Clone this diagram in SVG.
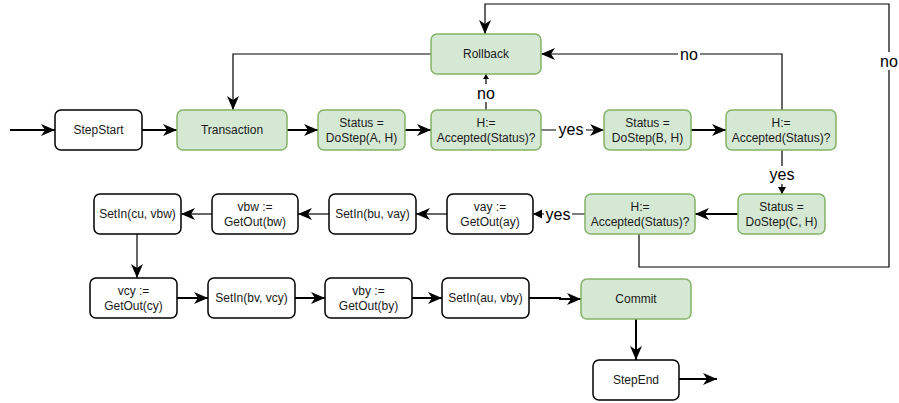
<svg xmlns="http://www.w3.org/2000/svg" width="899" height="403" viewBox="0 0 899 403">
  <style>
    .plain { fill: #ffffff; stroke: #000000; stroke-width: 1.5; }
    .green { fill: #d5e8d4; stroke: #82b366; stroke-width: 1.5; }
    .t { font-family: "Liberation Sans", Arial, sans-serif; font-size: 12px; fill: #1a1a1a; text-anchor: middle; }
    .lbl { font-family: "Liberation Sans", Arial, sans-serif; font-size: 16px; fill: #000000; text-anchor: middle; }
    .bg { fill: #ffffff; }
    .e { fill: none; stroke: #000000; stroke-width: 2; }
    .thin { fill: none; stroke: #000000; stroke-width: 1.2; }
  </style>
  <defs>
    <marker id="big" markerUnits="userSpaceOnUse" markerWidth="14" markerHeight="12" refX="14" refY="6" orient="auto" overflow="visible">
      <path d="M0,0 L14,6 L0,12 L4,6 Z" fill="#000"/>
    </marker>
    <marker id="mid" markerUnits="userSpaceOnUse" markerWidth="9" markerHeight="9" refX="9" refY="4.5" orient="auto" overflow="visible">
      <path d="M0,0 L9,4.5 L0,9 Z" fill="#000"/>
    </marker>
    <marker id="small" markerUnits="userSpaceOnUse" markerWidth="7" markerHeight="8" refX="7" refY="4" orient="auto" overflow="visible">
      <path d="M0,0 L7,4 L0,8 Z" fill="#000"/>
    </marker>
    <marker id="tiny" markerUnits="userSpaceOnUse" markerWidth="5" markerHeight="6" refX="5" refY="3" orient="auto" overflow="visible">
      <path d="M0,0 L5,3 L0,6 Z" fill="#000"/>
    </marker>
  </defs>

  <!-- connectors -->
  <g id="edges">
    <path class="e" d="M10,130 H55" marker-end="url(#big)"/>
    <path class="e" d="M142,130 H177" marker-end="url(#big)"/>
    <path class="e" d="M287,130 H318" marker-end="url(#big)"/>
    <path class="e" d="M405,130 H431" marker-end="url(#big)"/>
    <path class="thin" d="M541,130 H604" marker-end="url(#big)"/>
    <path class="e" d="M691,130 H726" marker-end="url(#big)"/>
    <path class="thin" d="M486,110 V74" marker-end="url(#tiny)"/>
    <path class="thin" d="M782,110 V54 H541" marker-end="url(#big)"/>
    <path class="thin" d="M431,54 H233 V110" marker-end="url(#big)"/>
    <path class="thin" d="M639,234 V267 H889 V4 H485 V34" marker-end="url(#big)"/>
    <path class="thin" d="M782,150 V194" marker-end="url(#small)"/>
    <path class="e" d="M738,214 H695" marker-end="url(#big)"/>
    <path class="thin" d="M585,214 H533" marker-end="url(#mid)"/>
    <path class="thin" d="M447,214 H416" marker-end="url(#big)"/>
    <path class="thin" d="M329,214 H298" marker-end="url(#big)"/>
    <path class="thin" d="M212,214 H181" marker-end="url(#big)"/>
    <path class="thin" d="M137,234 V278" marker-end="url(#big)"/>
    <path class="e" d="M177,298 H208" marker-end="url(#big)"/>
    <path class="e" d="M295,298 H325" marker-end="url(#big)"/>
    <path class="e" d="M412,298 H442" marker-end="url(#big)"/>
    <path class="e" d="M529,298 H560 V299 H581" marker-end="url(#big)"/>
    <path class="e" d="M636,319 V360" marker-end="url(#big)"/>
    <path class="e" d="M679,379 H717" marker-end="url(#big)"/>

    <!-- edge labels -->
    <rect class="bg" x="474" y="84" width="24" height="18"/>
    <text class="lbl" x="486" y="99">no</text>
    <rect class="bg" x="556" y="122" width="30" height="16"/>
    <text class="lbl" x="571" y="135">yes</text>
    <rect class="bg" x="678" y="46" width="22" height="16"/>
    <text class="lbl" x="689" y="60">no</text>
    <rect class="bg" x="878" y="52" width="22" height="18"/>
    <text class="lbl" x="889" y="67">no</text>
    <rect class="bg" x="767" y="166" width="30" height="18"/>
    <text class="lbl" x="782" y="180">yes</text>
    <rect class="bg" x="544" y="206" width="28" height="16"/>
    <text class="lbl" x="558" y="220">yes</text>
  </g>

  <!-- row 1 -->
  <g id="stepstart"><rect class="plain" x="55" y="110" width="87" height="40" rx="6"/><text class="t" x="98.5" y="134">StepStart</text></g>
  <g id="transaction"><rect class="green" x="177" y="110" width="110" height="40" rx="6"/><text class="t" x="232" y="134">Transaction</text></g>
  <g id="dostep-a"><rect class="green" x="318" y="110" width="87" height="40" rx="6"/><text class="t" x="361.5" y="127">Status =</text><text class="t" x="361.5" y="141.5">DoStep(A, H)</text></g>
  <g id="accepted-1"><rect class="green" x="431" y="110" width="110" height="40" rx="6"/><text class="t" x="486" y="127">H:=</text><text class="t" x="486" y="141.5">Accepted(Status)?</text></g>
  <g id="rollback"><rect class="green" x="431" y="34" width="110" height="40" rx="6"/><text class="t" x="486" y="58">Rollback</text></g>
  <g id="dostep-b"><rect class="green" x="604" y="110" width="87" height="40" rx="6"/><text class="t" x="647.5" y="127">Status =</text><text class="t" x="647.5" y="141.5">DoStep(B, H)</text></g>
  <g id="accepted-2"><rect class="green" x="726" y="110" width="110" height="40" rx="6"/><text class="t" x="781" y="127">H:=</text><text class="t" x="781" y="141.5">Accepted(Status)?</text></g>

  <!-- row 2 -->
  <g id="dostep-c"><rect class="green" x="738" y="194" width="87" height="40" rx="6"/><text class="t" x="781.5" y="211">Status =</text><text class="t" x="781.5" y="225.5">DoStep(C, H)</text></g>
  <g id="accepted-3"><rect class="green" x="585" y="194" width="110" height="40" rx="6"/><text class="t" x="640" y="211">H:=</text><text class="t" x="640" y="225.5">Accepted(Status)?</text></g>
  <g id="getout-ay"><rect class="plain" x="447" y="194" width="86" height="40" rx="6"/><text class="t" x="490" y="211">vay :=</text><text class="t" x="490" y="225.5">GetOut(ay)</text></g>
  <g id="setin-bu"><rect class="plain" x="329" y="194" width="87" height="40" rx="6"/><text class="t" x="372.5" y="218">SetIn(bu, vay)</text></g>
  <g id="getout-bw"><rect class="plain" x="212" y="194" width="86" height="40" rx="6"/><text class="t" x="255" y="211">vbw :=</text><text class="t" x="255" y="225.5">GetOut(bw)</text></g>
  <g id="setin-cu"><rect class="plain" x="94" y="194" width="87" height="40" rx="6"/><text class="t" x="137.5" y="218">SetIn(cu, vbw)</text></g>

  <!-- row 3 -->
  <g id="getout-cy"><rect class="plain" x="90" y="278" width="87" height="40" rx="6"/><text class="t" x="133.5" y="295">vcy :=</text><text class="t" x="133.5" y="309.5">GetOut(cy)</text></g>
  <g id="setin-bv"><rect class="plain" x="208" y="278" width="87" height="40" rx="6"/><text class="t" x="251.5" y="302">SetIn(bv, vcy)</text></g>
  <g id="getout-by"><rect class="plain" x="325" y="278" width="87" height="40" rx="6"/><text class="t" x="368.5" y="295">vby :=</text><text class="t" x="368.5" y="309.5">GetOut(by)</text></g>
  <g id="setin-au"><rect class="plain" x="442" y="278" width="87" height="40" rx="6"/><text class="t" x="485.5" y="302">SetIn(au, vby)</text></g>
  <g id="commit"><rect class="green" x="581" y="279" width="110" height="40" rx="6"/><text class="t" x="636" y="303">Commit</text></g>
  <g id="stepend"><rect class="plain" x="593" y="360" width="86" height="40" rx="6"/><text class="t" x="636" y="384">StepEnd</text></g>
</svg>
